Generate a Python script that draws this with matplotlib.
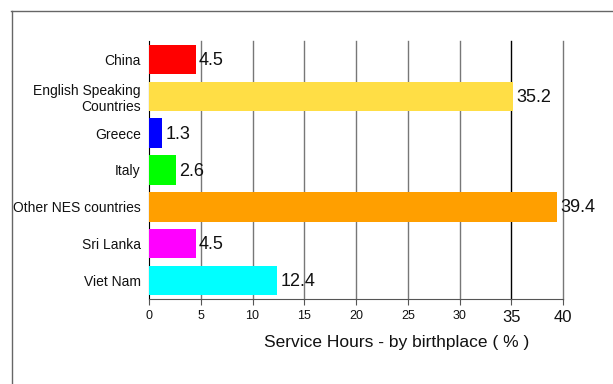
import matplotlib
matplotlib.use("Agg")
import matplotlib.pyplot as plt
from matplotlib.lines import Line2D

plt.rcParams['font.family'] = ['Liberation Sans', 'DejaVu Sans']

categories = ["China", "English Speaking\nCountries", "Greece", "Italy",
              "Other NES countries", "Sri Lanka", "Viet Nam"]
values = [4.5, 35.2, 1.3, 2.6, 39.4, 4.5, 12.4]
colors = ["#FF0000", "#FFDE45", "#0000FF", "#00FF00", "#FF9F00", "#FF00FF", "#00FFFF"]
xticks = [0, 5, 10, 15, 20, 25, 30, 35, 40]
xlabel = "Service Hours - by birthplace ( % )"

W, H = 613, 384
fig = plt.figure(figsize=(W / 100, H / 100), dpi=100)
ax = fig.add_axes([149 / W, 1 - 299 / H, (563 - 149) / W, (299 - 41) / H])

ypos = list(range(len(categories)))
ax.barh(ypos, values, height=0.8, color=colors, zorder=3)
for y, v in zip(ypos, values):
    ax.text(v + 0.3, y + 0.03, f"{v}", va="center", ha="left", fontsize=13, color="#111111", zorder=4)

ax.set_xlim(0, 40)
ax.set_ylim(6.5, -0.5)
ax.set_yticks(ypos)
ax.set_yticklabels(categories, fontsize=10, multialignment="right", color="#111111")
ax.tick_params(axis="y", length=0, pad=6)
ax.set_xticks(xticks)
ax.set_xticklabels([str(t) for t in xticks])
for lbl, t in zip(ax.get_xticklabels(), xticks):
    lbl.set_fontsize(12 if t >= 35 else 9)
    lbl.set_color("#111111")
ax.tick_params(axis="x", length=4, color="#555555", pad=4)

for t in xticks[1:]:
    ax.axvline(t, color="#000000" if t == 35 else "#777777", lw=1, zorder=1, clip_on=False)

for s in ["top", "right"]:
    ax.spines[s].set_visible(False)
ax.spines["left"].set_color("black")
ax.spines["bottom"].set_color("#555555")

fig.text(397 / W, 1 - 342 / H, xlabel, fontsize=12.5, ha="center", va="center", color="#111111")

# outer frame
fig.add_artist(Line2D([11 / W, 1], [1 - 11 / H, 1 - 11 / H], color="#666666", lw=1, transform=fig.transFigure))
fig.add_artist(Line2D([12 / W, 12 / W], [0, 1 - 11 / H], color="#666666", lw=1, transform=fig.transFigure))

fig.savefig("out.png", dpi=100)
